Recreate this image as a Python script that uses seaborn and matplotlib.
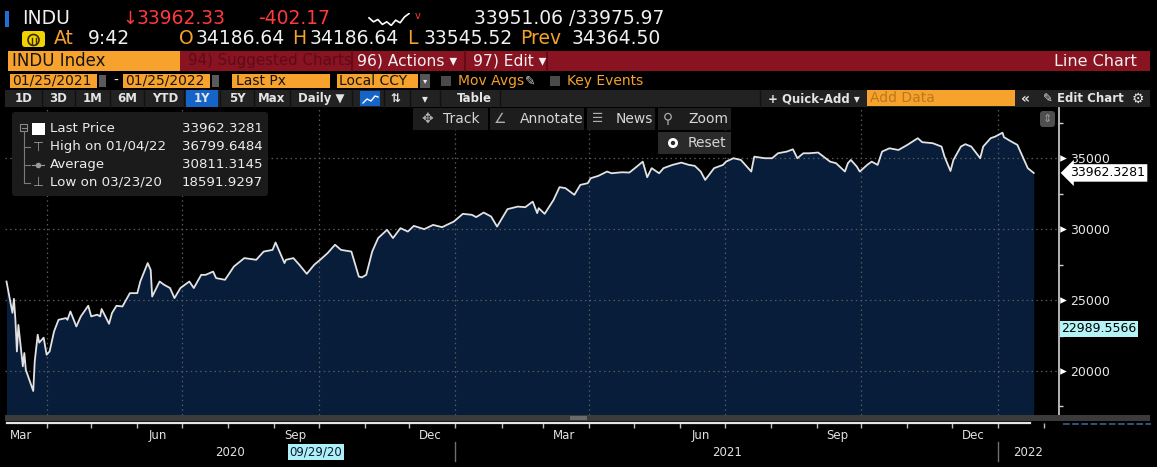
import pandas as pd
import matplotlib
matplotlib.use("Agg")
import matplotlib.pyplot as plt
import matplotlib.dates as mdates
import matplotlib.transforms as mtransforms
from matplotlib.patches import Rectangle, FancyBboxPatch, Circle
import seaborn as sns

# INDU closes, a point every few sessions
dates_2020 = ['2020-03-05', '2020-03-09', '2020-03-10', '2020-03-11', '2020-03-12', '2020-03-13',
              '2020-03-16', '2020-03-17', '2020-03-18', '2020-03-23', '2020-03-24', '2020-03-26',
              '2020-03-27', '2020-03-30',
              '2020-04-01', '2020-04-03', '2020-04-06', '2020-04-09', '2020-04-14', '2020-04-15',
              '2020-04-17', '2020-04-21', '2020-04-24', '2020-04-29',
              '2020-05-01', '2020-05-05', '2020-05-07', '2020-05-08', '2020-05-13', '2020-05-15',
              '2020-05-18', '2020-05-22', '2020-05-27',
              '2020-06-01', '2020-06-03', '2020-06-08', '2020-06-10', '2020-06-11', '2020-06-16',
              '2020-06-19', '2020-06-23', '2020-06-24', '2020-06-26', '2020-06-30',
              '2020-07-06', '2020-07-09', '2020-07-14', '2020-07-17', '2020-07-22', '2020-07-24',
              '2020-07-30',
              '2020-08-05', '2020-08-12', '2020-08-20', '2020-08-25', '2020-08-31',
              '2020-09-02', '2020-09-08', '2020-09-09', '2020-09-14', '2020-09-18', '2020-09-23',
              '2020-09-28',
              '2020-10-02', '2020-10-07', '2020-10-12', '2020-10-16', '2020-10-23', '2020-10-28',
              '2020-10-30',
              '2020-11-02', '2020-11-06', '2020-11-10', '2020-11-16', '2020-11-20', '2020-11-25',
              '2020-11-30',
              '2020-12-04', '2020-12-11', '2020-12-17', '2020-12-23', '2020-12-31']
close_2020 = [26310, 24100, 25090, 23610, 21380, 23250,
              20330, 21270, 20090, 18592, 20680, 22560,
              22000, 22350,
              21150, 21380, 22790, 23610, 23730, 23610,
              24200, 23140, 23850, 24600,
              23850, 23970, 23850, 24370, 23330, 24090,
              24600, 24550, 25490,
              25490, 26310, 27610, 27130, 25250, 26310,
              26080, 25850, 25610, 25140, 25850,
              26310, 25850, 26780, 26780, 27010, 26550,
              26430,
              27370, 27960, 27840, 28420, 28540,
              29060, 27610, 27840, 27960, 27490, 26850,
              27490,
              27840, 28310, 28900, 28540, 28420, 26660,
              26600,
              26780, 28420, 29370, 29950, 29370, 30070,
              29830,
              30230, 30000, 30300, 30140, 30540]

dates_2021 = ['2021-01-06', '2021-01-12', '2021-01-15', '2021-01-20', '2021-01-25', '2021-01-29',
              '2021-02-02', '2021-02-05', '2021-02-12', '2021-02-17', '2021-02-22', '2021-02-25',
              '2021-02-26',
              '2021-03-02', '2021-03-08', '2021-03-12', '2021-03-16', '2021-03-22', '2021-03-26',
              '2021-03-31',
              '2021-04-02', '2021-04-07', '2021-04-13', '2021-04-16', '2021-04-23', '2021-04-28',
              '2021-05-03', '2021-05-07', '2021-05-10', '2021-05-13', '2021-05-18', '2021-05-21',
              '2021-05-27',
              '2021-06-02', '2021-06-07', '2021-06-11', '2021-06-15', '2021-06-18', '2021-06-24',
              '2021-06-30',
              '2021-07-02', '2021-07-07', '2021-07-12', '2021-07-19', '2021-07-21', '2021-07-28',
              '2021-08-02', '2021-08-06', '2021-08-12', '2021-08-16', '2021-08-19', '2021-08-23',
              '2021-08-27',
              '2021-09-02', '2021-09-07', '2021-09-10', '2021-09-14', '2021-09-20', '2021-09-22',
              '2021-09-24', '2021-09-28', '2021-09-30',
              '2021-10-05', '2021-10-08', '2021-10-12', '2021-10-15', '2021-10-20', '2021-10-26',
              '2021-11-01', '2021-11-08', '2021-11-11', '2021-11-18', '2021-11-24', '2021-11-26',
              '2021-11-30',
              '2021-12-02', '2021-12-07', '2021-12-10', '2021-12-14', '2021-12-20', '2021-12-22',
              '2021-12-27', '2021-12-30']
close_2021 = [31080, 31010, 30850, 31170, 30890, 30180,
              30890, 31410, 31590, 31550, 31940, 31130,
              31480,
              31080, 32060, 32960, 32890, 32420, 33120,
              33240,
              33590, 33750, 34060, 33940, 34010, 33990,
              34410, 34760, 33660, 34300, 33940, 34300,
              34530,
              34690, 34530, 34460, 34060, 33470, 34300,
              34530,
              34760, 35000, 34880, 34060, 35110, 35000,
              35000, 35350, 35470, 35630, 35000, 35350,
              35350,
              35400, 35000, 34760, 34650, 34060, 34650,
              34880, 34410, 34060,
              34530, 34760, 34530, 35470, 35700, 35580,
              35940, 36410, 36130, 36060, 35820, 35110,
              34100,
              34880, 35820, 35990, 35820, 35000, 35820,
              36410, 36520]

dates_2022 = ['2022-01-04', '2022-01-05', '2022-01-10', '2022-01-14', '2022-01-18', '2022-01-21',
              '2022-01-25']
close_2022 = [36799.65, 36480, 36170, 35940, 35000, 34300, 33962.33]

y_major = [20000, 25000, 30000, 35000]
y_minor = [17500, 22500, 27500, 32500, 37500]
cursor_value = 22989.5566
cursor_date = '2020-09-29'

legend_names = ['Last Price', 'High on 01/04/22', 'Average', 'Low on 03/23/20']
legend_values = ['33962.3281', '36799.6484', '30811.3145', '18591.9297']

spark_vals = [3.6, 2.4, 3.1, 1.6, 2.4, 1.3, 2.9, 2.1, 3.9, 4.9]

df = pd.DataFrame({
    'date': pd.to_datetime(dates_2020 + dates_2021 + dates_2022),
    'close': close_2020 + close_2021 + close_2022,
})

plt.rcParams['font.family'] = ['DejaVu Sans']

WHITE = '#f0f0f0'
AMBER = '#f5a12a'
AMBER_BOX = '#f7a22d'
RED = '#ff3a3a'
BAR_RED = '#8a1322'
FILL = '#071d3a'
LINE = '#e2e2e2'
GRIDC = '#5a5a5a'

W, H = 1157, 467
fig = plt.figure(figsize=(W / 100, H / 100), dpi=100, facecolor='black')


def fx(px):
    return px / W


def fy(py):
    return 1 - py / H


x_lo, x_hi = pd.Timestamp('2020-03-04'), pd.Timestamp('2022-02-11')
y_lo, y_hi = 16900, 38540

# main price chart
ax = fig.add_axes([fx(5), fy(415), fx(1059) - fx(5), fy(108) - fy(415)])
ax.set_facecolor('black')
ax.fill_between(df['date'], df['close'], y_lo, color=FILL, lw=0, zorder=2)
sns.lineplot(data=df, x='date', y='close', ax=ax, color=LINE, linewidth=1.3, zorder=3)
ax.set_xlim(x_lo, x_hi)
ax.set_ylim(y_lo, y_hi)
ax.set_xlabel('')
ax.set_ylabel('')
ax.xaxis.set_major_locator(mdates.MonthLocator(bymonth=[1, 4, 7, 10]))
ax.tick_params(axis='x', length=0, labelbottom=False)
ax.yaxis.tick_right()
ax.set_yticks(y_major)
ax.set_yticks(y_minor, minor=True)
ax.tick_params(axis='y', which='major', length=0, pad=8, labelcolor='#e6e6e6', labelsize=9)
ax.tick_params(axis='y', which='minor', length=3, width=1, color='#cfcfcf', direction='out')
ax.grid(True, which='major', color=GRIDC, linestyle=(0, (1.2, 2.6)), linewidth=0.9)
ax.set_axisbelow(False)
for side in ['top', 'left', 'bottom']:
    ax.spines[side].set_visible(False)
ax.spines['right'].set_color('#c4c4c4')
ax.spines['right'].set_linewidth(1.3)
ytr = ax.get_yaxis_transform()
ax.scatter([1.004] * len(y_major), y_major, marker='>', s=22, color='white',
           transform=ytr, clip_on=False, zorder=5, linewidths=0)

# value tags on the right axis
ax.text(1.0105, close_2022[-1], legend_values[0], transform=ytr, color='black', fontsize=9,
        va='center', ha='left', clip_on=False, zorder=6,
        bbox=dict(boxstyle='larrow,pad=0.18', fc='white', ec='none'))
ax.text(1.002, cursor_value, '22989.5566', transform=ytr, color='black', fontsize=9,
        va='center', ha='left', clip_on=False, zorder=6,
        bbox=dict(boxstyle='square,pad=0.12', fc='#b4f3f6', ec='none'))

# month axis under the scroll bar
axb = fig.add_axes([fx(5), fy(423), fx(1059) - fx(5), fy(415) - fy(423)])
axb.set_xlim(x_lo, x_hi)
axb.set_ylim(0, 1)
axb.patch.set_alpha(0)
for s in axb.spines.values():
    s.set_visible(False)
axb.set_yticks([])
axb.xaxis.set_major_locator(mdates.MonthLocator())
axb.xaxis.set_major_formatter(plt.NullFormatter())
axb.xaxis.set_minor_locator(mdates.MonthLocator(bymonth=[3, 6, 9, 12], bymonthday=15))
axb.xaxis.set_minor_formatter(mdates.DateFormatter('%b'))
axb.tick_params(axis='x', which='major', length=3.5, width=1, color='#bdbdbd')
axb.tick_params(axis='x', which='minor', length=0, pad=4, labelsize=8.5, labelcolor='#e2e2e2')

# sparkline in the header
axs = fig.add_axes([fx(367), fy(26), fx(411) - fx(367), fy(13) - fy(26)])
sns.lineplot(x=list(range(len(spark_vals))), y=spark_vals, ax=axs, color='white', linewidth=1.2)
axs.axis('off')

# overlay in pixel coordinates for the terminal furniture
ui = fig.add_axes([0, 0, 1, 1], zorder=10)
ui.set_xlim(0, W)
ui.set_ylim(H, 0)
ui.axis('off')


def box(x0, y0, x1, y1, color, round_=False):
    if round_:
        ui.add_patch(FancyBboxPatch((x0, y0), x1 - x0, y1 - y0, boxstyle='round,pad=0,rounding_size=3',
                                    fc=color, ec='none'))
    else:
        ui.add_patch(Rectangle((x0, y0), x1 - x0, y1 - y0, fc=color, ec='none'))


def txt(x, y, s, color=WHITE, size=10, **kw):
    ui.text(x, y, s, color=color, fontsize=size, va='center', **kw)


# header row 1
box(5, 11, 9, 27, '#1f6fd6')
txt(22, 19, 'INDU', WHITE, 13.5)
txt(122, 19, '↓', RED, 13)
txt(137, 19, '33962.33', RED, 13.5)
txt(258, 19, '-402.17', RED, 13.5)
txt(415, 16, 'v', RED, 7)
txt(474, 19, '33951.06 /33975.97', WHITE, 13.5)

# header row 2
box(22, 31, 45, 47, '#f2d200', round_=True)
ui.add_patch(Circle((33.5, 40), 5.5, fill=False, ec='#3a2a00', lw=1.2))
ui.plot([31.5, 31.5], [38, 44], color='#3a2a00', lw=1)
ui.plot([35.5, 35.5], [38, 44], color='#3a2a00', lw=1)
txt(54, 39, 'At', AMBER, 13.5)
txt(88, 39, '9:42', WHITE, 13.5)
for lx, lab, vx, val in [(179, 'O', 196, '34186.64'), (292, 'H', 310, '34186.64'),
                         (407, 'L', 424, '33545.52'), (520, 'Prev', 572, '34364.50')]:
    txt(lx, 39, lab, AMBER, 13.5)
    txt(vx, 39, val, WHITE, 13.5)

# header row 3: security box and red menu bar
box(8, 51, 180, 71, AMBER_BOX)
txt(12, 61, 'INDU Index', '#151515', 12)
box(180, 51, 1150, 71, BAR_RED)
for sx in [352, 465, 547]:
    ui.plot([sx, sx], [51, 71], color='#5e0a15', lw=1.2)
txt(188, 61, '94) Suggested Charts', '#5c0c18', 10.8)
txt(357, 61, '96) Actions ▾', WHITE, 11.2)
txt(473, 61, '97) Edit ▾', WHITE, 11.2)
txt(1137, 61, 'Line Chart', WHITE, 11.5, ha='right')

# header row 4: date range and options
box(10, 74, 97, 88, AMBER_BOX)
txt(12, 81, '01/25/2021', '#151515', 10)
box(99, 75, 106, 87, '#5a5a5a')
txt(113, 81, '-', WHITE, 10)
box(123, 74, 210, 88, AMBER_BOX)
txt(125, 81, '01/25/2022', '#151515', 10)
box(212, 75, 219, 87, '#5a5a5a')
box(232, 74, 330, 88, AMBER_BOX)
txt(236, 81, 'Last Px', '#151515', 10)
box(337, 74, 418, 88, AMBER_BOX)
txt(339, 81, 'Local CCY', '#151515', 10)
box(420, 74, 430, 88, '#555555')
txt(425, 81, '▾', WHITE, 6, ha='center')
box(441, 76, 451, 86, '#4a4a4a')
txt(458, 81, 'Mov Avgs', AMBER, 10)
txt(525, 81, '✎', '#cfcfcf', 9)
box(550, 76, 560, 86, '#4a4a4a')
txt(567, 81, 'Key Events', AMBER, 10)

# header row 5: range buttons
box(5, 90, 1150, 107, '#222222')
box(186, 90, 218, 107, '#1565c8')
box(360, 91, 380, 106, '#1565c8')
for bx in [42, 75, 110, 144, 184, 220, 254, 290, 352, 384, 410, 440, 500, 760]:
    ui.plot([bx, bx], [90, 107], color='#111111', lw=1)
for cx, lab in [(24, '1D'), (58, '3D'), (93, '1M'), (127, '6M'), (165, 'YTD'), (202, '1Y'),
                (237, '5Y'), (272, 'Max'), (321, 'Daily ▼'), (395, '⇅'), (425, '▾'), (474, 'Table')]:
    txt(cx, 98.5, lab, '#e4e4e4', 8.5, ha='center', weight='bold')
ui.plot([363, 367, 371, 375, 378], [103, 99, 101, 96, 97], color='white', lw=1)
txt(768, 98.5, '+ Quick-Add ▾', '#e4e4e4', 8.5, weight='bold')
box(867, 90, 1015, 106, AMBER_BOX)
txt(870, 98.5, 'Add Data', '#b97a1c', 10)
txt(1021, 98.5, '«', '#e4e4e4', 10, weight='bold')
txt(1043, 98.5, '✎ Edit Chart', '#e4e4e4', 8.5, weight='bold')
txt(1138, 98.5, '⚙', '#e4e4e4', 10, ha='center')

# chart tool buttons
for x0, x1 in [(413, 488), (490, 584), (587, 655), (658, 731)]:
    box(x0, 108, x1, 130, '#1d1d1d')
txt(427, 119, '✥', '#b0b0b0', 10, ha='center')
txt(443, 119, 'Track', '#d6d6d6', 10)
txt(500, 119, '∠', '#b0b0b0', 10, ha='center')
txt(520, 119, 'Annotate', '#d6d6d6', 10)
txt(598, 119, '☰', '#b0b0b0', 9, ha='center')
txt(616, 119, 'News', '#d6d6d6', 10)
txt(668, 119, '⚲', '#b0b0b0', 10, ha='center')
txt(688, 119, 'Zoom', '#d6d6d6', 10)
box(658, 132, 731, 154, '#2a2a2a')
ui.add_patch(Circle((673, 143), 3.6, fill=False, ec='white', lw=2))
txt(688, 143, 'Reset', '#d6d6d6', 10)
box(1040, 111, 1055, 127, '#4e4e4e', round_=True)
txt(1047.5, 119, '⇕', '#a0a0a0', 8, ha='center')

# legend box
box(12, 112, 268, 196, '#1b1b1b', round_=True)
ui.add_patch(Rectangle((20, 124), 7, 7, fill=False, ec='#8a8a8a', lw=0.8))
ui.plot([21.5, 25.5], [127.5, 127.5], color='#8a8a8a', lw=0.8)
box(32, 123, 45, 135, 'white')
ui.plot([24, 24], [131, 183], color='#7a7a7a', lw=0.8)
for ly in [147, 165, 183]:
    ui.plot([24, 30], [ly, ly], color='#7a7a7a', lw=0.8)
txt(38, 147, '⊤', '#9a9a9a', 9, ha='center')
ui.plot([32, 44], [165, 165], color='#9a9a9a', lw=0.8)
ui.plot([38], [165], color='#9a9a9a', marker='o', ms=3)
txt(38, 182, '⊥', '#9a9a9a', 9, ha='center')
for i, (name, val) in enumerate(zip(legend_names, legend_values)):
    ly = 129 + i * 17.7
    txt(50, ly, name, '#ececec', 9.6)
    txt(182, ly, val, '#ececec', 9.6)

# scroll bar under the chart
box(5, 415, 1150, 421, '#3b3b3b')
box(570, 416, 587, 420, '#6a6a6a')
ui.plot([7, 1030], [422.5, 422.5], color='#e6e6e6', lw=1.6)
ui.plot([1063, 1151], [424, 424], color='#3f5f8f', lw=1.2, ls=(0, (4, 1.5)))

# year row
xtr = mtransforms.blended_transform_factory(axb.transData, ui.transData)
lo_num, hi_num = mdates.date2num(x_lo), mdates.date2num(x_hi)
for yr in [2020, 2021, 2022]:
    a = max(lo_num, mdates.date2num(pd.Timestamp(f'{yr}-01-01')))
    b = min(hi_num, mdates.date2num(pd.Timestamp(f'{yr + 1}-01-01')))
    ui.text((a + b) / 2, 452, str(yr), transform=xtr, color='#e2e2e2', fontsize=8.5,
            ha='center', va='center')
    if yr > 2020:
        ui.plot([a, a], [442, 461], transform=xtr, color='#6e6e6e', lw=1)
ui.text(mdates.date2num(pd.Timestamp(cursor_date)), 452, '09/29/20', transform=xtr,
        color='#0b1a33', fontsize=8.5, ha='center', va='center',
        bbox=dict(boxstyle='square,pad=0.15', fc='#aef0f6', ec='none'))

fig.savefig('out.png', dpi=100, facecolor='black')
